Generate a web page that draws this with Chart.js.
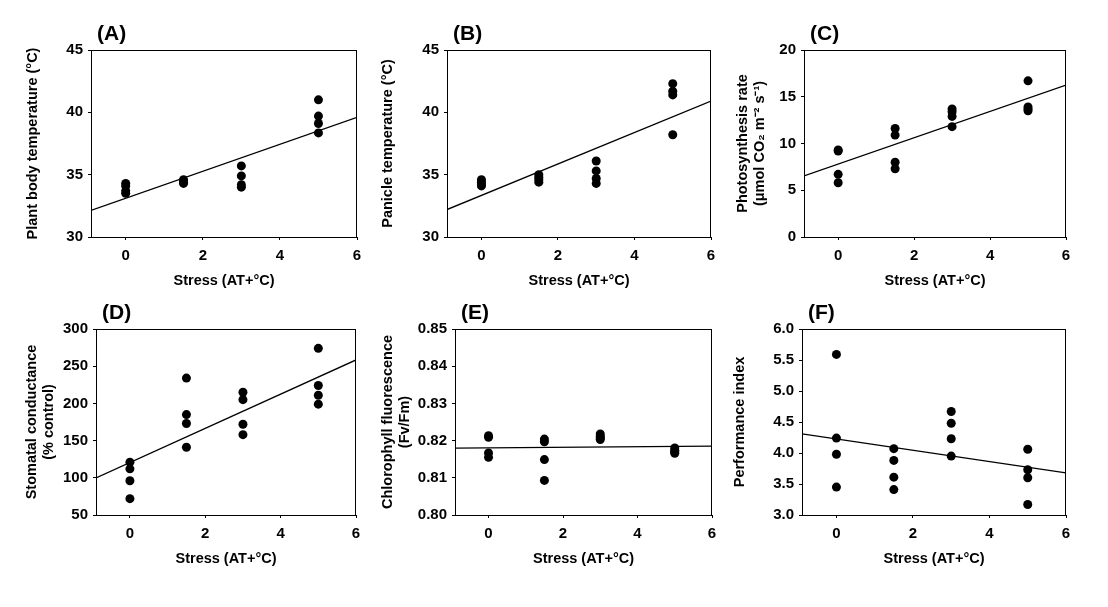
<!DOCTYPE html>
<html>
<head>
<meta charset="utf-8">
<script src="https://cdn.jsdelivr.net/npm/chart.js@4.4.1/dist/chart.umd.min.js"></script>
<style>
  html, body { margin: 0; padding: 0; background: #fff; }
  #wrap { position: relative; width: 1108px; height: 607px; overflow: hidden; }
  #wrap canvas { position: absolute; }
</style>
</head>
<body>
<div id="wrap"></div>
<script>
// stress level (AT + °C) of every measured plant, shared by all six panels
const stress = [0, 0, 0, 0, 1.5, 1.5, 1.5, 1.5, 3, 3, 3, 3, 5, 5, 5, 5];

const plantTemp   = [34.3, 34.1, 33.7, 33.5, 34.6, 34.5, 34.4, 34.3, 35.7, 34.9, 34.2, 34.0, 41.0, 39.7, 39.1, 38.35];
const panicleTemp = [34.6, 34.4, 34.2, 34.1, 35.0, 34.8, 34.6, 34.4, 36.1, 35.3, 34.7, 34.3, 42.3, 41.7, 41.4, 38.2];
const photoRate   = [9.3, 9.2, 6.7, 5.8, 11.6, 10.9, 8.0, 7.3, 13.7, 13.4, 12.9, 11.8, 16.7, 13.9, 13.7, 13.5];
const stomatal    = [121, 112, 96, 72, 234, 185, 173, 141, 215, 205, 172, 158, 274, 224, 211, 199];
const fvfm        = [0.8213, 0.8209, 0.8167, 0.8155, 0.8204, 0.8197, 0.8149, 0.8093, 0.8218, 0.8212, 0.8207, 0.8203, 0.8180, 0.8174, 0.8170, 0.8166];
const perfIndex   = [5.59, 4.24, 3.98, 3.45, 4.07, 3.88, 3.61, 3.41, 4.67, 4.48, 4.23, 3.95, 4.06, 3.73, 3.60, 3.17];

// regression lines, read at both ends of the x axis
const fitX = [-0.9, 6];
const fitPlantTemp   = [32.14, 39.6];
const fitPanicleTemp = [32.2, 40.9];
const fitPhotoRate   = [6.54, 16.25];
const fitStomatal    = [99.7, 258.4];
const fitFvfm        = [0.8180, 0.8185];
const fitPerfIndex   = [4.31, 3.68];

// tick labels
const xTicks      = ['0', '2', '4', '6'];
const ticksTemp   = ['30', '35', '40', '45'];
const ticksPhoto  = ['0', '5', '10', '15', '20'];
const ticksStom   = ['50', '100', '150', '200', '250', '300'];
const ticksFvfm   = ['0.80', '0.81', '0.82', '0.83', '0.84', '0.85'];
const ticksPerf   = ['3.0', '3.5', '4.0', '4.5', '5.0', '5.5', '6.0'];

const xTitle = 'Stress (AT+°C)';

const FAMILY = '"Liberation Sans", Arial, sans-serif';
const tickFont = { family: FAMILY, size: 15, weight: 'bold' };
const titleFont = { family: FAMILY, size: 14.5, weight: 'bold', lineHeight: 1.17 };

const panels = [
  { tag: '(A)', y: plantTemp,   fit: fitPlantTemp,   yTicks: ticksTemp,  title: 'Plant body temperature (°C)', box: [91, 50, 357, 237], gap: 58 },
  { tag: '(B)', y: panicleTemp, fit: fitPanicleTemp, yTicks: ticksTemp,  title: 'Panicle temperature (°C)', box: [447, 50, 711, 237], gap: 59 },
  { tag: '(C)', y: photoRate,   fit: fitPhotoRate,   yTicks: ticksPhoto, title: ['Photosynthesis rate', '(μmol CO₂ m⁻² s⁻¹)'], box: [804, 50, 1066, 237], gap: 61 },
  { tag: '(D)', y: stomatal,    fit: fitStomatal,    yTicks: ticksStom,  title: ['Stomatal conductance', '(% control)'], box: [96, 329, 356, 515], gap: 64 },
  { tag: '(E)', y: fvfm,        fit: fitFvfm,        yTicks: ticksFvfm,  title: ['Chlorophyll fluorescence', '(Fv/Fm)'], box: [455, 329, 712, 515], gap: 67 },
  { tag: '(F)', y: perfIndex,   fit: fitPerfIndex,   yTicks: ticksPerf,  title: 'Performance index', box: [802, 329, 1066, 515], gap: 62 }
];

const LEFT_W = 90, TOP_P = 45, RIGHT_P = 25, BOTTOM_H = 65;

// box round the plot area + the panel letter
const frame = {
  id: 'frame',
  afterDraw(chart, args, opts) {
    const { ctx, chartArea: a } = chart;
    ctx.save();
    ctx.strokeStyle = '#000';
    ctx.lineWidth = 1;
    ctx.strokeRect(Math.round(a.left) + 0.5, Math.round(a.top) + 0.5,
      Math.round(a.right - a.left) - 1, Math.round(a.bottom - a.top));
    ctx.fillStyle = '#000';
    ctx.font = 'bold 21px ' + FAMILY;
    ctx.textBaseline = 'alphabetic';
    ctx.fillText(opts.tag, a.left + 6, a.top - 10);
    ctx.restore();
  }
};

const wrap = document.getElementById('wrap');

panels.forEach(p => {
  const [l, t, r, b] = p.box;
  const cv = document.createElement('canvas');
  cv.width = r - l + LEFT_W + RIGHT_P;
  cv.height = b - t + TOP_P + BOTTOM_H;
  cv.style.left = (l - LEFT_W) + 'px';
  cv.style.top = (t - TOP_P) + 'px';
  wrap.appendChild(cv);

  const yv = p.yTicks.map(Number);
  new Chart(cv, {
    type: 'scatter',
    data: {
      datasets: [
        {
          data: fitX.map((x, i) => ({ x, y: p.fit[i] })),
          showLine: true, pointRadius: 0, borderColor: '#000', borderWidth: 1.3
        },
        {
          data: stress.map((x, i) => ({ x, y: p.y[i] })),
          pointRadius: 4.5, backgroundColor: '#000', borderColor: '#000', borderWidth: 0
        }
      ]
    },
    options: {
      responsive: false,
      animation: false,
      layout: { padding: { left: 0, top: TOP_P, right: RIGHT_P, bottom: 0 } },
      plugins: { legend: { display: false }, tooltip: { enabled: false }, frame: { tag: p.tag } },
      scales: {
        x: {
          type: 'linear', min: -0.9, max: 6,
          afterFit: s => { s.height = BOTTOM_H; },
          afterBuildTicks: s => { s.ticks = xTicks.map(v => ({ value: Number(v) })); },
          ticks: { callback: (v, i) => xTicks[i], font: tickFont, color: '#000', padding: 7, maxRotation: 0, autoSkip: false },
          grid: { drawOnChartArea: false, drawTicks: true, tickLength: 3, color: '#000' },
          border: { color: '#000', width: 1 },
          title: { display: true, text: xTitle, font: titleFont, color: '#000', padding: { top: 0, bottom: 13 } }
        },
        y: {
          type: 'linear', min: yv[0], max: yv[yv.length - 1],
          afterFit: s => { s.width = LEFT_W; },
          afterBuildTicks: s => { s.ticks = yv.map(v => ({ value: v })); },
          ticks: { callback: (v, i) => p.yTicks[i], font: tickFont, color: '#000', padding: 5, autoSkip: false },
          grid: { drawOnChartArea: false, drawTicks: true, tickLength: 3, color: '#000' },
          border: { color: '#000', width: 1 },
          title: { display: true, text: p.title, font: titleFont, color: '#000', padding: { top: LEFT_W - p.gap - 8.5, bottom: 0 } }
        }
      }
    },
    plugins: [frame]
  });
});
</script>
</body>
</html>
